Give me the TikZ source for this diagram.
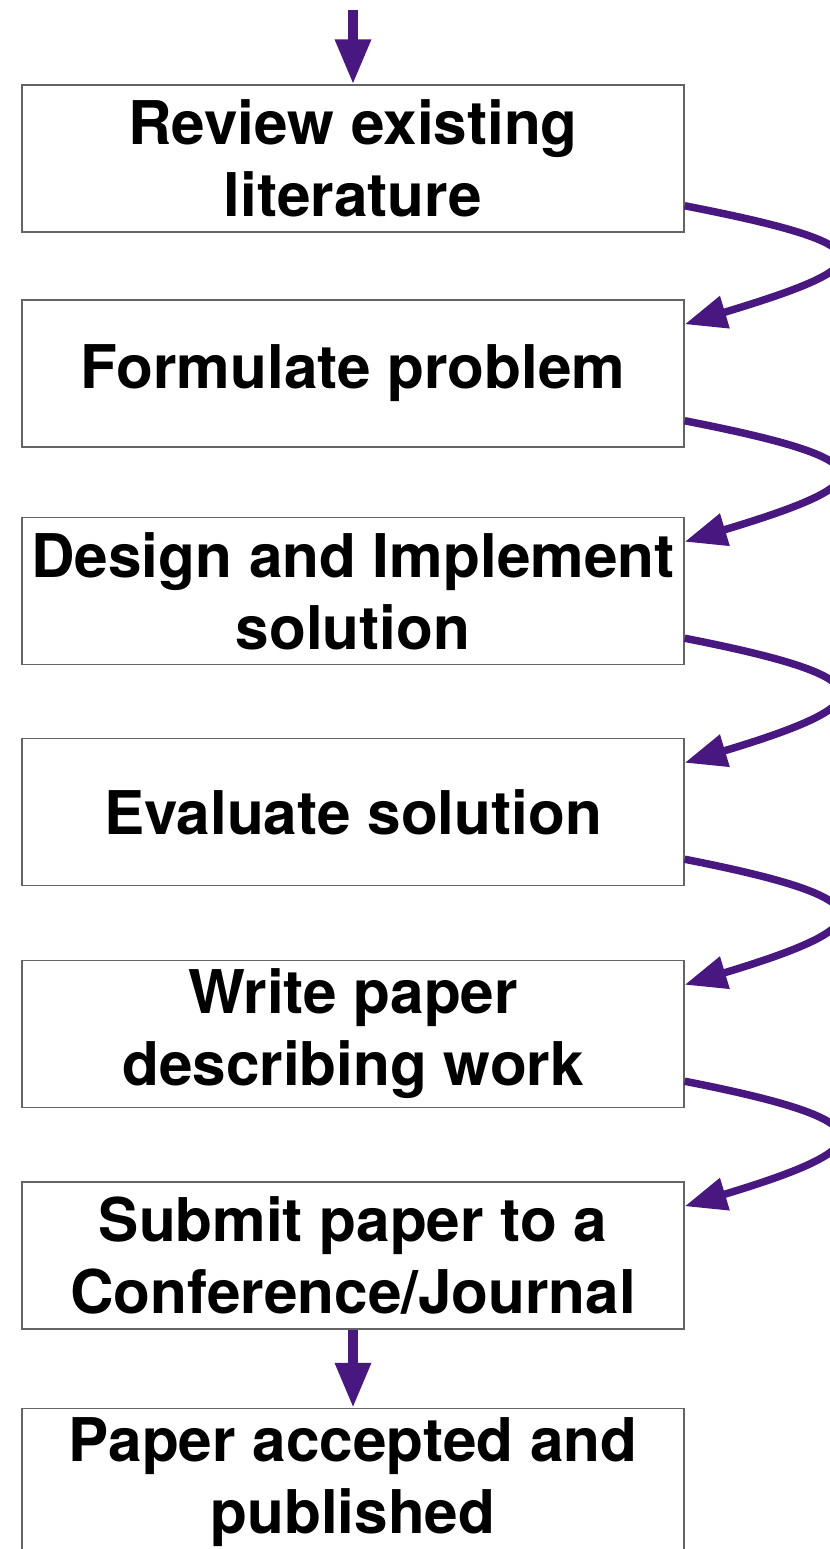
\documentclass[tikz,border=0pt]{standalone}
\usepackage{fontspec}
\setmainfont{TeX Gyre Heros}
\usepackage{tikz}
\usetikzlibrary{arrows.meta}
\usepackage{xcolor}
\definecolor{flowpurple}{RGB}{72,24,128}
\definecolor{boxgrey}{RGB}{100,100,100}

\begin{document}
\begin{tikzpicture}[x=0.02cm,y=-0.02cm,
    stage/.style={draw=boxgrey,line width=0.85pt,minimum width=13.24cm,minimum height=2.94cm,
      inner sep=0pt,align=center,font=\fontsize{34.3pt}{41pt}\selectfont\bfseries},
    down/.style={line width=0.19cm,flowpurple,-{Triangle[length=0.9cm,width=0.68cm]}},
    loop/.style={line width=0.15cm,flowpurple,-{Triangle[length=0.84cm,width=0.64cm]}}]
  \useasboundingbox (0,0) rectangle (830,1549);
  \clip (0,0) rectangle (830,1549);
  \coordinate (start) at (353,10);
  \node[stage] (review) at (353,158.5) {Review existing\\literature};
  \node[stage] (problem) at (353,373.5) {Formulate problem};
  \node[stage] (design) at (353,591) {Design and Implement\\solution};
  \node[stage] (evaluate) at (353,812) {Evaluate solution};
  \node[stage] (write) at (353,1034) {Write paper\\describing work};
  \node[stage] (submit) at (353,1255.5) {Submit paper to a\\Conference/Journal};
  \node[stage] (published) at (353,1482) {Paper accepted and\\published};
  \draw[down] (start)--(review.north);
  \draw[down] (submit.south)--(published.north);
  % curved hand-overs on the right
  \draw[loop] ([yshift=0.54cm]review.south east) .. controls +(4.08cm,-0.8cm) and +(3.98cm,1.2cm) .. ([yshift=-0.5cm]problem.north east);
  \draw[loop] ([yshift=0.54cm]problem.south east) .. controls +(4.08cm,-0.8cm) and +(3.98cm,1.2cm) .. ([yshift=-0.5cm]design.north east);
  \draw[loop] ([yshift=0.54cm]design.south east) .. controls +(4.08cm,-0.8cm) and +(3.98cm,1.2cm) .. ([yshift=-0.5cm]evaluate.north east);
  \draw[loop] ([yshift=0.54cm]evaluate.south east) .. controls +(4.08cm,-0.8cm) and +(3.98cm,1.2cm) .. ([yshift=-0.5cm]write.north east);
  \draw[loop] ([yshift=0.54cm]write.south east) .. controls +(4.08cm,-0.8cm) and +(3.98cm,1.2cm) .. ([yshift=-0.5cm]submit.north east);
\end{tikzpicture}
\end{document}
